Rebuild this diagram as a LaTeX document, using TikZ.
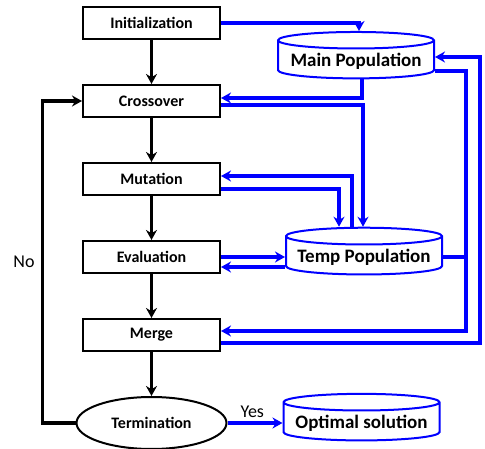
\documentclass[tikz,border=0pt]{standalone}
\usepackage{fontspec}
\setmainfont{Carlito}
\usetikzlibrary{positioning, shapes.geometric, arrows.meta, calc}

\begin{document}
\begin{tikzpicture}[x=1pt, y=-1pt,
     node distance = 44pt and 60pt,
        box/.style = {rectangle, draw, line width=2pt, minimum width=137pt, minimum height=32pt, font=\bfseries\fontsize{16}{18}\selectfont},
       term/.style = {ellipse, draw, line width=2pt, minimum width=150pt, minimum height=52pt, font=\bfseries\fontsize{16}{18}\selectfont},
      store/.style = {cylinder, shape border rotate=90, draw=blue, line width=2pt, aspect=0.12, minimum width=156pt, minimum height=44pt, font=\bfseries\fontsize{19}{22}\selectfont},
      bflow/.style = {line width=3.2pt, -{Stealth[length=10pt, width=11pt]}},
       flow/.style = {draw=blue, line width=3.2pt, -{Stealth[length=10pt, width=11pt]}},
      bline/.style = {draw=blue, line width=3.2pt}
                        ]
\useasboundingbox (0,0) rectangle (485,449);
% main loop
\node (init)      [box] at (151.5,23) {Initialization};
\node (crossover) [box, below=of init] {Crossover};
\node (mutation)  [box, below=of crossover] {Mutation};
\node (evaluation)[box, below=of mutation] {Evaluation};
\node (merge)     [box, below=of evaluation] {Merge};
\node (termination)[term, below=of merge] {Termination};
% populations
\node (mainpop) [store] at (356,61) {Main Population};
\node (temppop) [store, right=64pt of evaluation] {Temp Population};
\node (optimal) [store, right=55pt of termination] {Optimal solution};
\coordinate (rail)  at (466,200);
\coordinate (outer) at (480,200);

\draw[bflow] (init) -- (crossover);
\draw[bflow] (crossover) -- (mutation);
\draw[bflow] (mutation) -- (evaluation);
\draw[bflow] (evaluation) -- (merge);
\draw[bflow] (merge) -- (termination);
\draw[bflow] (termination.west) -- ++(-33,0) |- node[pos=0.25, left=3pt] (nolabel) {\fontsize{18}{20}\selectfont No} (crossover.west);

\draw[flow] (init.east) -| ([xshift=3pt]mainpop.north);
\draw[flow] ([xshift=6pt]mainpop.south) |- ($(crossover.east)+(0,-3)$);
\draw[flow] ($(crossover.east)+(0,4)$) -| ([xshift=-1pt]temppop.north);
\draw[flow] ([xshift=-12pt]temppop.north) |- ($(mutation.east)+(0,-3)$);
\draw[flow] ($(mutation.east)+(0,10)$) -| ([xshift=-25pt]temppop.north);
\draw[flow] (evaluation.east) -- (evaluation.east -| temppop.west);
\draw[flow] ($(evaluation.east -| temppop.west)+(0,10)$) -- ($(evaluation.east)+(0,10)$);
\draw[bline] (temppop.east) -- (temppop.east -| rail);
\draw[flow] ($(mainpop.east)+(0,10)$) -| (rail) |- ($(merge.east)+(0,-4)$);
\draw[flow] ($(merge.east)+(0,8)$) -| (outer) |- ($(mainpop.east)+(0,-4)$);
\draw[flow] (termination.east) -- node[above, pos=0.45] (yeslabel) {\fontsize{18}{20}\selectfont Yes} (optimal.west);
\end{tikzpicture}
\end{document}
